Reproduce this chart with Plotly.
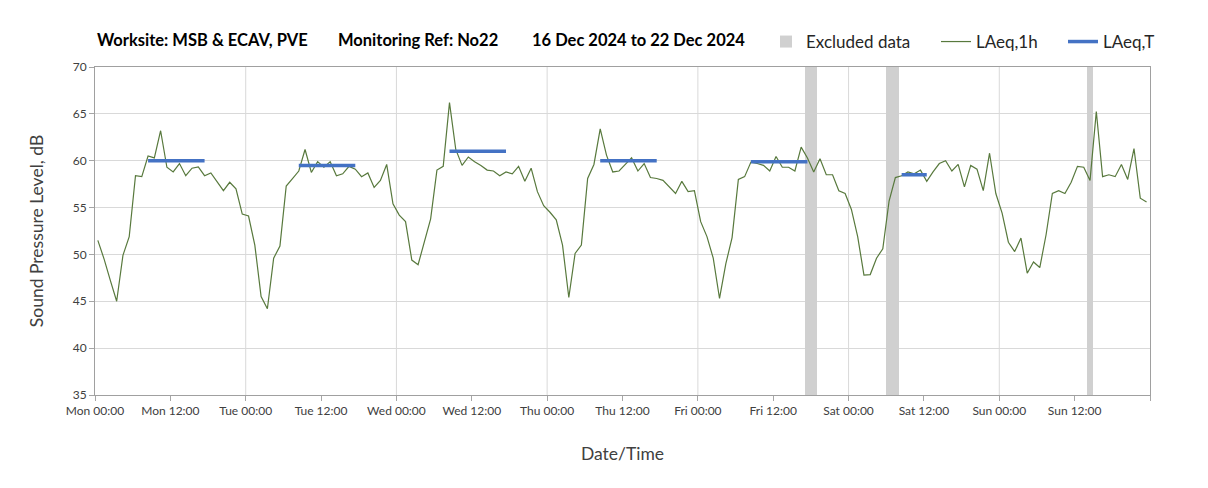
import plotly.graph_objects as go

# ---------------- data ----------------
# Hourly LAeq,1h values, Mon 00:00 (hour 0) .. Sun 23:00 (hour 167)
laeq_1h = [
    51.5, 49.5, 47.2, 45.0, 49.9, 51.9, 58.4, 58.3, 60.5, 60.3, 63.2, 59.3,
    58.8, 59.7, 58.4, 59.2, 59.35, 58.4, 58.7, 57.7, 56.8, 57.7, 57.0, 54.3,
    54.1, 51.0, 45.5, 44.2, 49.6, 50.9, 57.3, 58.1, 58.9, 61.2, 58.75, 59.9,
    59.3, 59.9, 58.4, 58.6, 59.4, 59.1, 58.3, 58.7, 57.15, 57.9, 59.6, 55.4,
    54.2, 53.5, 49.4, 48.9, 51.4, 53.8, 59.0, 59.4, 66.2, 61.2, 59.5, 60.4,
    59.9, 59.5, 59.0, 58.9, 58.4, 58.8, 58.6, 59.4, 57.8, 59.2, 56.7, 55.2,
    54.5, 53.7, 51.0, 45.4, 50.1, 51.0, 58.1, 59.6, 63.4, 60.6, 58.8, 58.9,
    59.6, 60.3, 58.9, 59.7, 58.2, 58.1, 57.9, 57.2, 56.5, 57.8, 56.7, 56.8,
    53.5, 51.9, 49.6, 45.3, 49.0, 51.8, 58.0, 58.3, 59.85, 59.7, 59.5, 58.9,
    60.45, 59.3, 59.3, 58.9, 61.45, 60.3, 58.8, 60.2, 58.5, 58.5, 56.8, 56.5,
    54.8, 51.9, 47.8, 47.85, 49.6, 50.6, 55.7, 58.2, 58.4, 58.8, 58.6, 59.0,
    57.8, 58.8, 59.7, 60.0, 58.9, 59.6, 57.2, 59.5, 59.1, 56.8, 60.8, 56.5,
    54.4, 51.3, 50.3, 51.75, 48.0, 49.2, 48.6, 52.1, 56.5, 56.8, 56.5, 57.7,
    59.4, 59.3, 57.9, 65.25, 58.3, 58.5, 58.3, 59.6, 58.0, 61.3, 56.0, 55.6,
]
hour_offset = 0.45  # plotting position within each hour

# LAeq,T daytime periods: day index, first hour, last hour, level
laeqT_day = [0, 1, 2, 3, 4, 5]
laeqT_start = [8, 8, 8, 8, 8, 8]
laeqT_end = [17, 17, 17, 17, 17, 12]
laeqT_level = [60.0, 59.5, 61.0, 60.0, 59.9, 58.5]

# Excluded data periods (hours from Mon 00:00)
excl_start = [113, 126, 158]
excl_end = [115, 128, 159]

day_names = ["Mon", "Tue", "Wed", "Thu", "Fri", "Sat", "Sun"]
tick_hours = list(range(0, 169, 12))
tick_text = [f"{day_names[h // 24]} {h % 24:02d}:00" if h < 168 else "" for h in tick_hours]

# ---------------- layout helpers ----------------
FONT = "Lato"
OFF = 8  # page body margin
L, T = 87, 59
PW, PH = 1055, 328
R = 1208 - L - PW
B = 488 - T - PH


def px_x(sx):
    return (sx - OFF - L) / PW


def px_y(sy):
    return 1 - (sy - OFF - T) / PH


fig = go.Figure()

# excluded data bands (bars spanning full y range)
fig.add_trace(go.Bar(
    x=[(s + e) / 2 for s, e in zip(excl_start, excl_end)],
    width=[e - s for s, e in zip(excl_start, excl_end)],
    y=[35] * len(excl_start), base=[35] * len(excl_start),
    marker=dict(color="#d0d0d0", line=dict(width=0)),
    name="Excluded data", hoverinfo="skip", legend="legend",
))

fig.add_trace(go.Scatter(
    x=[k + hour_offset for k in range(len(laeq_1h))], y=laeq_1h,
    mode="lines", line=dict(color="#58793d", width=1.2),
    name="LAeq,1h", legend="legend2",
))

xs, ys = [], []
for d, s, e, v in zip(laeqT_day, laeqT_start, laeqT_end, laeqT_level):
    xs += [d * 24 + s + hour_offset, d * 24 + e + hour_offset, None]
    ys += [v, v, None]
fig.add_trace(go.Scatter(
    x=xs, y=ys, mode="lines", line=dict(color="#4472c4", width=3.5),
    name="LAeq,T", connectgaps=False, legend="legend3",
))

# daily vertical gridlines
for h in range(24, 168, 24):
    fig.add_shape(type="line", xref="x", yref="paper", x0=h, x1=h, y0=0, y1=1,
                  line=dict(color="#d9d9d9", width=1), layer="below")

# title (three parts)
title_parts = [("Worksite: MSB & ECAV, PVE", 95), ("Monitoring Ref: No22", 336),
               ("16 Dec 2024 to 22 Dec 2024", 530)]
for txt, sx in title_parts:
    fig.add_annotation(text=f"<b>{txt}</b>", xref="paper", yref="paper",
                       x=px_x(sx), y=px_y(40), xanchor="left", yanchor="middle",
                       showarrow=False, font=dict(family=FONT, size=16.5, color="#000000"))

leg_common = dict(orientation="h", xanchor="left", yanchor="middle",
                  font=dict(family=FONT, size=17, color="#262626"),
                  bgcolor="rgba(0,0,0,0)", itemwidth=30)

fig.update_layout(
    width=1208, height=488,
    margin=dict(l=L, r=R, t=T, b=B),
    paper_bgcolor="white", plot_bgcolor="white",
    font=dict(family=FONT, color="#404040"),
    barmode="overlay", bargap=0,
    showlegend=True,
    legend=dict(x=px_x(766), y=px_y(42), **leg_common),
    legend2=dict(x=px_x(936), y=px_y(42), **leg_common),
    legend3=dict(x=px_x(1063), y=px_y(42), **leg_common),
    xaxis=dict(range=[0, 168], tickvals=tick_hours, ticktext=tick_text,
               showgrid=False, zeroline=False,
               ticks="outside", ticklen=5, tickcolor="#a6a6a6",
               showline=True, linecolor="#a0a0a0", linewidth=1, mirror=True,
               tickfont=dict(family=FONT, size=12, color="#404040"),
               title=dict(text="Date/Time", font=dict(family=FONT, size=17.5, color="#404040"), standoff=30)),
    yaxis=dict(range=[35, 70], dtick=5, showgrid=True, gridcolor="#d9d9d9", gridwidth=1,
               zeroline=False, ticks="outside", ticklen=5, tickcolor="#a6a6a6",
               showline=True, linecolor="#a0a0a0", linewidth=1, mirror=True,
               tickfont=dict(family=FONT, size=12, color="#404040"),
               title=dict(text="Sound Pressure Level, dB", font=dict(family=FONT, size=17.5, color="#404040"), standoff=24)),
)

fig.write_html("out.html")
